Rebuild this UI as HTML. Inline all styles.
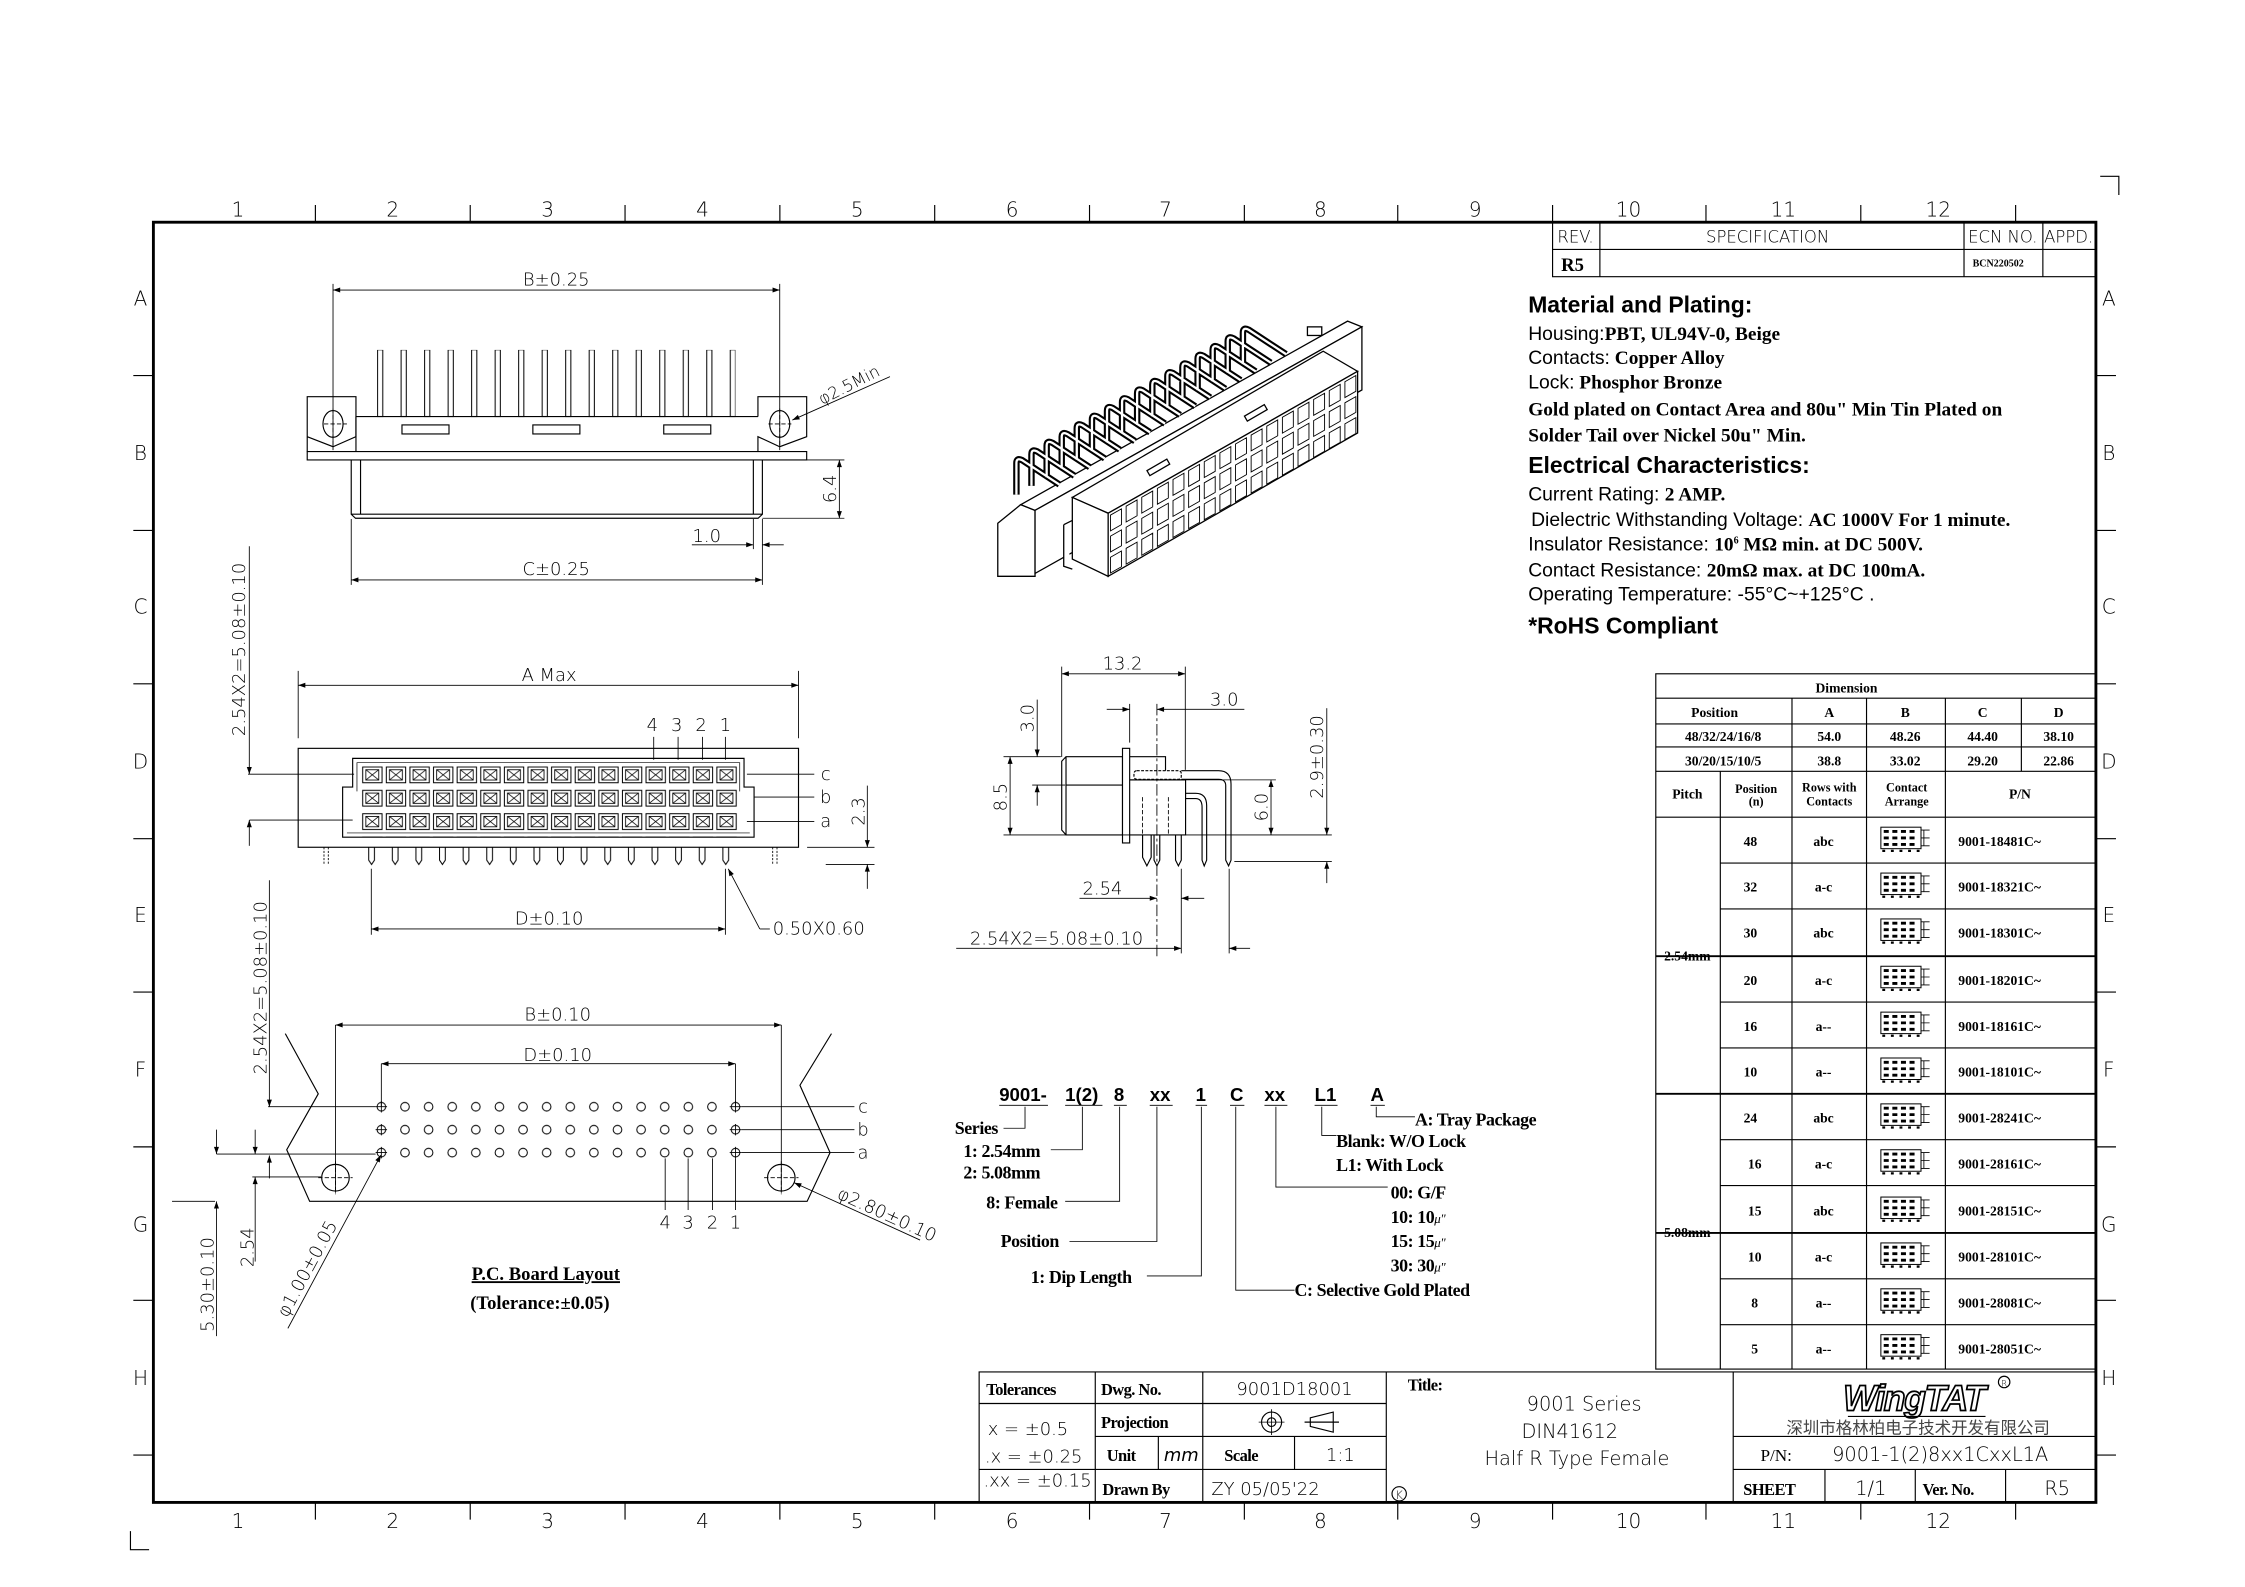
<!DOCTYPE html>
<html><head><meta charset="utf-8"><style>
html,body{margin:0;padding:0;background:#fff}
svg{display:block}
.l{stroke:#000;fill:none;stroke-width:.8}
.w{stroke:#000;fill:#fff;stroke-width:.8}
.d{stroke:#000;fill:none;stroke-width:.6}
.t{font-family:"DejaVu Sans","Liberation Sans",sans-serif;font-size:12.5px;fill:#000;font-weight:300}
.s{font-family:"Liberation Serif",serif;font-weight:bold;fill:#000}
.h{font-family:"Liberation Sans",sans-serif;font-weight:bold;fill:#000}
</style></head><body>
<svg width="2245" height="1587" viewBox="0 0 1566 1107" xmlns="http://www.w3.org/2000/svg">
<defs>
<marker id="a" viewBox="0 0 10 10" refX="10" refY="5" markerWidth="9" markerHeight="5" orient="auto-start-reverse" markerUnits="userSpaceOnUse"><path d="M0,1.5 L10,5 L0,8.5z" fill="#000"/></marker>
<pattern id="ct" patternUnits="userSpaceOnUse" x="252" y="534.5" width="16.47" height="16.3"><rect x="1" y="0.5" width="13.5" height="11" fill="none" stroke="#000" stroke-width=".7"/><rect x="3.2" y="2.4" width="9" height="7.2" fill="none" stroke="#000" stroke-width=".6"/><path d="M3.2,2.4 L12.2,9.6 M12.2,2.4 L3.2,9.6" stroke="#000" stroke-width=".5"/></pattern>
<pattern id="fp" patternUnits="userSpaceOnUse" x="251" y="591" width="16.47" height="20"><path d="M6.2,0 V9 L8.2,12 L10.2,9 V0" fill="none" stroke="#000" stroke-width=".7"/></pattern>
<pattern id="ho" patternUnits="userSpaceOnUse" x="257.8" y="764" width="16.47" height="16"><circle cx="8.235" cy="8" r="3" fill="none" stroke="#000" stroke-width=".7"/></pattern>
<pattern id="tp" patternUnits="userSpaceOnUse" x="263" y="244" width="16.4" height="60"><rect x="0.4" y="0" width="3.6" height="46.6" fill="none" stroke="#000" stroke-width=".7"/></pattern>
<g id="ic"><rect x="0" y="0" width="28" height="15" fill="none" stroke="#000" stroke-width=".7"/><path d="M28,2 h6 M28,7.5 h6 M28,13 h6 M30,2 v11" stroke="#000" stroke-width=".6" fill="none"/><path d="M2,3 h24 M2,7.5 h24 M2,12 h24" stroke="#000" stroke-width="2" stroke-dasharray="3.5 2.5"/><path d="M1,16.5 h27" stroke="#000" stroke-width="1.6" stroke-dasharray="2 4"/></g>
</defs>
<rect width="1566" height="1107" fill="#fff"/>

<rect x="107" y="155" width="1355" height="893" class="l" style="stroke-width:2"/>
<path class="l" d="M1465,123 H1478 V136 M91,1068 V1081 H104"/>
<g class="l">
<path d="M220,143V155 M328,143V155 M436,143V155 M544,143V155 M652,143V155 M760,143V155 M868,143V155 M975,143V155 M1083,143V155 M1190,143V155 M1298,143V155 M1406,143V155"/>
<path d="M220,1048V1060 M328,1048V1060 M436,1048V1060 M544,1048V1060 M652,1048V1060 M760,1048V1060 M868,1048V1060 M975,1048V1060 M1083,1048V1060 M1190,1048V1060 M1298,1048V1060 M1406,1048V1060"/>
<path d="M93,262H107 M93,370H107 M93,477H107 M93,585H107 M93,692H107 M93,800H107 M93,907H107 M93,1015H107"/>
<path d="M1462,262H1476 M1462,370H1476 M1462,477H1476 M1462,585H1476 M1462,692H1476 M1462,800H1476 M1462,907H1476 M1462,1015H1476"/>
</g>
<g class="t" style="font-size:14px" text-anchor="middle">
<text x="166" y="151">1</text><text x="274" y="151">2</text><text x="382" y="151">3</text><text x="490" y="151">4</text><text x="598" y="151">5</text><text x="706" y="151">6</text><text x="813" y="151">7</text><text x="921" y="151">8</text><text x="1029" y="151">9</text><text x="1136" y="151">10</text><text x="1244" y="151">11</text><text x="1352" y="151">12</text>
<text x="166" y="1066">1</text><text x="274" y="1066">2</text><text x="382" y="1066">3</text><text x="490" y="1066">4</text><text x="598" y="1066">5</text><text x="706" y="1066">6</text><text x="813" y="1066">7</text><text x="921" y="1066">8</text><text x="1029" y="1066">9</text><text x="1136" y="1066">10</text><text x="1244" y="1066">11</text><text x="1352" y="1066">12</text>
<text x="98" y="213">A</text><text x="98" y="321">B</text><text x="98" y="428">C</text><text x="98" y="536">D</text><text x="98" y="643">E</text><text x="98" y="751">F</text><text x="98" y="859">G</text><text x="98" y="966">H</text>
<text x="1471" y="213">A</text><text x="1471" y="321">B</text><text x="1471" y="428">C</text><text x="1471" y="536">D</text><text x="1471" y="643">E</text><text x="1471" y="751">F</text><text x="1471" y="859">G</text><text x="1471" y="966">H</text>
</g>

<path class="l" d="M1083,155V193H1462 M1083,174H1462 M1116,155V193 M1370,155V193 M1425,155V193"/>
<g class="t" style="font-size:11.5px" text-anchor="middle"><text x="1099" y="169">REV.</text><text x="1233" y="169">SPECIFICATION</text><text x="1397" y="169">ECN NO.</text><text x="1443" y="169">APPD.</text></g>
<text x="1089" y="189" class="s" style="font-size:13px">R5</text>
<text x="1376" y="186" class="s" style="font-size:7px">BCN220502</text>

<g>
<text x="1066" y="218" class="h" style="font-size:16px">Material and Plating:</text>
<text x="1066" y="237" class="s" style="font-size:13.5px"><tspan style="font-family:'Liberation Sans';font-weight:normal">Housing:</tspan>PBT, UL94V-0, Beige</text>
<text x="1066" y="254" class="s" style="font-size:13.5px"><tspan style="font-family:'Liberation Sans';font-weight:normal">Contacts:</tspan> Copper Alloy</text>
<text x="1066" y="271" class="s" style="font-size:13.5px"><tspan style="font-family:'Liberation Sans';font-weight:normal">Lock:</tspan> Phosphor Bronze</text>
<text x="1066" y="290" class="s" style="font-size:13.5px">Gold plated on Contact Area and 80u" Min Tin Plated on</text>
<text x="1066" y="308" class="s" style="font-size:13.5px">Solder Tail over Nickel 50u" Min.</text>
<text x="1066" y="330" class="h" style="font-size:16px">Electrical Characteristics:</text>
<g style="font-family:'Liberation Sans';font-size:13.5px">
<text x="1066" y="349">Current Rating: <tspan class="s">2 AMP.</tspan></text>
<text x="1068" y="367">Dielectric Withstanding Voltage: <tspan class="s">AC 1000V For 1 minute.</tspan></text>
<text x="1066" y="384">Insulator Resistance: <tspan class="s">10<tspan dy="-5" style="font-size:7px">6</tspan><tspan dy="5"> MΩ min. at DC 500V.</tspan></tspan></text>
<text x="1066" y="402">Contact Resistance: <tspan class="s">20mΩ  max. at DC 100mA.</tspan></text>
<text x="1066" y="419">Operating Temperature: -55°C~+125°C  .</text>
</g>
<text x="1066" y="442" class="h" style="font-size:16px">*RoHS Compliant</text>
</g>

<g class="l">
<rect x="1155" y="470" width="307" height="485"/>
<path d="M1155,487H1462 M1155,505H1462 M1155,521H1462 M1155,538H1462 M1155,570H1462"/>
<path d="M1250,487V955 M1302,487V955 M1357,487V955 M1410,487V538 M1200,538V955"/>
<path d="M1200,602H1462 M1200,634H1462 M1200,699H1462 M1200,731H1462 M1200,795H1462 M1200,827H1462 M1200,892H1462 M1200,924H1462"/>
<path d="M1155,667H1462 M1155,763H1462 M1155,860H1462" style="stroke-width:1.3"/>
</g>
<g class="s" style="font-size:9.5px" text-anchor="middle">
<text x="1288" y="483">Dimension</text>
<text x="1196" y="500">Position</text><text x="1276" y="500">A</text><text x="1329" y="500">B</text><text x="1383" y="500">C</text><text x="1436" y="500">D</text>
<text x="1202" y="517">48/32/24/16/8</text><text x="1276" y="517">54.0</text><text x="1329" y="517">48.26</text><text x="1383" y="517">44.40</text><text x="1436" y="517">38.10</text>
<text x="1202" y="534">30/20/15/10/5</text><text x="1276" y="534">38.8</text><text x="1329" y="534">33.02</text><text x="1383" y="534">29.20</text><text x="1436" y="534">22.86</text>
<text x="1177" y="557">Pitch</text><text x="1225" y="553" style="font-size:8.5px">Position</text><text x="1225" y="562" style="font-size:8.5px">(n)</text>
<text x="1276" y="552" style="font-size:8.5px">Rows with</text><text x="1276" y="562" style="font-size:8.5px">Contacts</text>
<text x="1330" y="552" style="font-size:8.5px">Contact</text><text x="1330" y="562" style="font-size:8.5px">Arrange</text>
<text x="1409" y="557">P/N</text>
<text x="1177" y="670">2.54mm</text><text x="1177" y="863">5.08mm</text>
</g>
<g class="s" style="font-size:9.5px">
<g text-anchor="middle">
<text x="1221" y="590">48</text><text x="1221" y="622">32</text><text x="1221" y="654">30</text><text x="1221" y="687">20</text><text x="1221" y="719">16</text><text x="1221" y="751">10</text><text x="1221" y="783">24</text><text x="1224" y="815">16</text><text x="1224" y="848">15</text><text x="1224" y="880">10</text><text x="1224" y="912">8</text><text x="1224" y="944">5</text>
<text x="1272" y="590">abc</text><text x="1272" y="622">a-c</text><text x="1272" y="654">abc</text><text x="1272" y="687">a-c</text><text x="1272" y="719">a--</text><text x="1272" y="751">a--</text><text x="1272" y="783">abc</text><text x="1272" y="815">a-c</text><text x="1272" y="848">abc</text><text x="1272" y="880">a-c</text><text x="1272" y="912">a--</text><text x="1272" y="944">a--</text>
</g>
<text x="1366" y="590">9001-18481C~</text><text x="1366" y="622">9001-18321C~</text><text x="1366" y="654">9001-18301C~</text><text x="1366" y="687">9001-18201C~</text><text x="1366" y="719">9001-18161C~</text><text x="1366" y="751">9001-18101C~</text><text x="1366" y="783">9001-28241C~</text><text x="1366" y="815">9001-28161C~</text><text x="1366" y="848">9001-28151C~</text><text x="1366" y="880">9001-28101C~</text><text x="1366" y="912">9001-28081C~</text><text x="1366" y="944">9001-28051C~</text>
</g>
<use href="#ic" x="1312" y="577"/><use href="#ic" x="1312" y="609"/><use href="#ic" x="1312" y="641"/><use href="#ic" x="1312" y="674"/><use href="#ic" x="1312" y="706"/><use href="#ic" x="1312" y="738"/><use href="#ic" x="1312" y="770"/><use href="#ic" x="1312" y="802"/><use href="#ic" x="1312" y="835"/><use href="#ic" x="1312" y="867"/><use href="#ic" x="1312" y="899"/><use href="#ic" x="1312" y="931"/>

<path class="d" d="M232.3,198V314 M543.9,198V314"/>
<path class="d" d="M232.3,202.3H543.9" marker-start="url(#a)" marker-end="url(#a)"/>
<text x="388" y="199" class="t" text-anchor="middle">B±0.25</text>
<rect x="263" y="244" width="250" height="47" fill="url(#tp)"/>
<path class="l" d="M248.3,290.6H528.7 M214.3,320.8H562.7V315H214.3Z"/>
<path class="l" d="M214.3,315V276.7H248.3V304.6L232.3,311.6L214.3,304.6 M528.7,290.6V276.7H562.7V304.6L543.9,311.6L528.7,304.6V315"/>
<path class="l" d="M248.3,290.6V315"/>
<ellipse cx="232.3" cy="295.7" rx="7" ry="9.3" class="l"/><ellipse cx="543.9" cy="295.7" rx="7" ry="9.3" class="l"/>
<path class="d" d="M232.3,285V312 M226,295.7H242 M543.9,285V312 M536,295.7H552" stroke-dasharray="3 1.5"/>
<rect x="280.4" y="296.4" width="32.8" height="6.3" class="l"/><rect x="371.7" y="296.4" width="32.8" height="6.3" class="l"/><rect x="463" y="296.4" width="32.8" height="6.3" class="l"/>
<path class="l" d="M245,320.8V358.7L248,361.5H528.8L531.8,358.7V320.8 M251.5,320.8V358.7 M525.5,320.8V358.7 M245,358.7H531.8"/>
<path class="d" d="M562.7,320.8H589 M531.8,361.5H589"/>
<path class="d" d="M585.5,320.8V361.5" marker-start="url(#a)" marker-end="url(#a)"/>
<text transform="translate(583,341) rotate(-90)" class="t" text-anchor="middle">6.4</text>
<path class="d" d="M525.5,362V383 M531.8,362V408 M245,362V408"/>
<path class="d" d="M482.6,380H525.5" marker-end="url(#a)"/><path class="d" d="M546.7,380H531.8" marker-end="url(#a)"/>
<text x="493" y="378" class="t" text-anchor="middle">1.0</text>
<path class="d" d="M245,404.5H531.8" marker-start="url(#a)" marker-end="url(#a)"/>
<text x="388" y="401" class="t" text-anchor="middle">C±0.25</text>
<path class="d" d="M620.8,262.7L552.7,293" marker-end="url(#a)"/>
<text transform="translate(594,272) rotate(-27)" class="t" style="font-size:11.5px" text-anchor="middle">φ2.5Min</text>

<path class="d" d="M208,468V515 M557,468V515"/>
<path class="d" d="M208,478H557" marker-start="url(#a)" marker-end="url(#a)"/>
<text x="383" y="475" class="t" text-anchor="middle">A  Max</text>
<rect x="208" y="522" width="349" height="69" class="l"/>
<path class="l" d="M246,549V529H519V549H526V584H239V549Z"/>
<path class="l" d="M249,552V532H516V552 M242,581H523" style="stroke-width:.5"/>
<rect x="252" y="534.5" width="263.5" height="49" fill="url(#ct)"/>
<rect x="251" y="591" width="263.5" height="13" fill="url(#fp)"/>
<path class="d" d="M226,591V603 M229,591V603 M539,591V603 M542,591V603" stroke-dasharray="1.5 1"/>
<g class="t" text-anchor="middle"><text x="455" y="510">4</text><text x="472" y="510">3</text><text x="489" y="510">2</text><text x="506" y="510">1</text></g>
<path class="d" d="M456,514V530 M473,514V530 M490,514V530 M506,514V530"/>
<path class="d" d="M521,540H568 M526,556H568 M521,573H568 M173,540H247 M174,572H246"/>
<g class="t" text-anchor="middle"><text x="576" y="544">c</text><text x="576" y="560">b</text><text x="576" y="577">a</text></g>
<path class="d" d="M563,591H610 M576,603H610"/>
<path class="d" d="M605,548V591" marker-end="url(#a)"/><path class="d" d="M605,620V603" marker-end="url(#a)"/>
<text transform="translate(603,566) rotate(-90)" class="t" text-anchor="middle">2.3</text>
<path class="d" d="M259,606V652 M506,606V652"/>
<path class="d" d="M259,648H506" marker-start="url(#a)" marker-end="url(#a)"/>
<text x="383" y="645" class="t" text-anchor="middle">D±0.10</text>
<path class="d" d="M530,648L508,606" marker-end="url(#a)"/><path class="d" d="M530,648H537"/>
<text x="539" y="652" class="t">0.50X0.60</text>
<path class="d" d="M173.9,381V540" marker-end="url(#a)"/><path class="d" d="M173.9,590V572" marker-end="url(#a)"/>
<text transform="translate(171,453) rotate(-90)" class="t" text-anchor="middle">2.54X2=5.08±0.10</text>

<path class="d" d="M234,715V832 M545,715V832 M266,742V772 M513,742V772"/>
<path class="d" d="M234,715H545" marker-start="url(#a)" marker-end="url(#a)"/>
<path class="d" d="M266,742H513" marker-start="url(#a)" marker-end="url(#a)"/>
<text x="389" y="712" class="t" text-anchor="middle">B±0.10</text><text x="389" y="740" class="t" text-anchor="middle">D±0.10</text>
<rect x="257.8" y="764" width="263.5" height="48" fill="url(#ho)"/>
<path class="d" d="M262,772H270 M266,768V776 M262,788H270 M266,784V792 M262,804H270 M266,800V808 M509,772H517 M513,768V776 M509,788H517 M513,784V792 M509,804H517 M513,800V808"/>
<ellipse cx="234" cy="821.5" rx="9.6" ry="9.3" class="l"/><ellipse cx="545" cy="821.5" rx="9.6" ry="9.3" class="l"/>
<path class="d" d="M234,810V833 M222,821.5H246 M545,810V833 M533,821.5H557" stroke-dasharray="3 1.5"/>
<path class="l" d="M199,721L222,763L200,802L216,838H563L579,804L558,757L580,721"/>
<path class="d" d="M187,772H262 M517,772H596 M517,788H596 M517,804H596 M151,805H262 M176,821H224 M120,838H150"/>
<g class="t" text-anchor="middle"><text x="602" y="776">c</text><text x="602" y="792">b</text><text x="602" y="808">a</text>
<text x="464" y="857">4</text><text x="480" y="857">3</text><text x="497" y="857">2</text><text x="513" y="857">1</text></g>
<path class="d" d="M464,808V844 M480,808V844 M497,808V844 M513,808V844"/>
<path class="d" d="M187.9,614V772" marker-end="url(#a)"/><path class="d" d="M187.9,822V806" marker-end="url(#a)"/>
<text transform="translate(186,689) rotate(-90)" class="t" text-anchor="middle">2.54X2=5.08±0.10</text>
<path class="d" d="M151,788V805" marker-end="url(#a)"/><path class="d" d="M151,932V838" marker-end="url(#a)"/>
<text transform="translate(149,896) rotate(-90)" class="t" text-anchor="middle">5.30±0.10</text>
<path class="d" d="M178,788V805" marker-end="url(#a)"/><path class="d" d="M178,880V821" marker-end="url(#a)"/>
<text transform="translate(177,870) rotate(-90)" class="t" text-anchor="middle">2.54</text>
<path class="d" d="M200.8,926.6L265.7,805.7" marker-end="url(#a)"/>
<text transform="translate(218,887) rotate(-61.7)" class="t" text-anchor="middle">φ1.00±0.05</text>
<path class="d" d="M641.8,865L554,825" marker-end="url(#a)"/>
<text transform="translate(617,851) rotate(24.5)" class="t" text-anchor="middle">φ2.80±0.10</text>
<text x="329" y="893" class="s" style="font-size:13px;text-decoration:underline">P.C. Board Layout</text>
<text x="328" y="913" class="s" style="font-size:13px">(Tolerance:±0.05)</text>

<g class="w" style="stroke-width:.9">
<path d="M696,365L712,352L722,356V402H696Z"/>
<path d="M712,352L940,224L950,228L722,356Z"/>
<path d="M722,356L950,228V272L722,400Z"/>
</g>
<path id="p3" style="fill:none;stroke:#000;stroke-width:4.5" d="M709,345v-22q0-4 4-2l26,17 M719.5,338.9v-22q0-4 4-2l26,17 M730.1,332.9v-22q0-4 4-2l26,17 M740.6,326.8v-22q0-4 4-2l26,17 M751.1,320.7v-22q0-4 4-2l26,17 M761.7,314.7v-22q0-4 4-2l26,17 M772.2,308.6v-22q0-4 4-2l26,17 M782.7,302.5v-22q0-4 4-2l26,17 M793.2,296.4v-22q0-4 4-2l26,17 M803.8,290.4v-22q0-4 4-2l26,17 M814.3,284.3v-22q0-4 4-2l26,17 M824.8,278.2v-22q0-4 4-2l26,17 M835.4,272.2v-22q0-4 4-2l26,17 M845.9,266.1v-22q0-4 4-2l26,17 M856.4,260v-22q0-4 4-2l26,17 M867,254v-22q0-4 4-2l26,17"/>
<path style="fill:none;stroke:#fff;stroke-width:1.6" d="M709,345v-22q0-4 4-2l26,17 M719.5,338.9v-22q0-4 4-2l26,17 M730.1,332.9v-22q0-4 4-2l26,17 M740.6,326.8v-22q0-4 4-2l26,17 M751.1,320.7v-22q0-4 4-2l26,17 M761.7,314.7v-22q0-4 4-2l26,17 M772.2,308.6v-22q0-4 4-2l26,17 M782.7,302.5v-22q0-4 4-2l26,17 M793.2,296.4v-22q0-4 4-2l26,17 M803.8,290.4v-22q0-4 4-2l26,17 M814.3,284.3v-22q0-4 4-2l26,17 M824.8,278.2v-22q0-4 4-2l26,17 M835.4,272.2v-22q0-4 4-2l26,17 M845.9,266.1v-22q0-4 4-2l26,17 M856.4,260v-22q0-4 4-2l26,17 M867,254v-22q0-4 4-2l26,17"/>
<g class="w" style="stroke-width:.9">
<path d="M748,347L923,245L947,259L773,358Z"/>
<path d="M748,347L773,358V402L748,390Z"/>
<path d="M773,358L947,259V302L773,402Z"/>
<path d="M742,366L748,363 M742,366V395L748,397" />
<rect x="800" y="324" width="16" height="4" transform="rotate(-30 808 326)"/>
<rect x="868" y="286" width="16" height="4" transform="rotate(-30 876 288)"/>
<rect x="912" y="228" width="10" height="6"/>
</g>
<g transform="matrix(10.9,-6.2,0,14.7,773,358)">
<path d="M0.15,0.15h0.7v0.75h-0.7z M1.15,0.15h0.7v0.75h-0.7z M2.15,0.15h0.7v0.75h-0.7z M3.15,0.15h0.7v0.75h-0.7z M4.15,0.15h0.7v0.75h-0.7z M5.15,0.15h0.7v0.75h-0.7z M6.15,0.15h0.7v0.75h-0.7z M7.15,0.15h0.7v0.75h-0.7z M8.15,0.15h0.7v0.75h-0.7z M9.15,0.15h0.7v0.75h-0.7z M10.15,0.15h0.7v0.75h-0.7z M11.15,0.15h0.7v0.75h-0.7z M12.15,0.15h0.7v0.75h-0.7z M13.15,0.15h0.7v0.75h-0.7z M14.15,0.15h0.7v0.75h-0.7z M15.15,0.15h0.7v0.75h-0.7z
M0.15,1.15h0.7v0.75h-0.7z M1.15,1.15h0.7v0.75h-0.7z M2.15,1.15h0.7v0.75h-0.7z M3.15,1.15h0.7v0.75h-0.7z M4.15,1.15h0.7v0.75h-0.7z M5.15,1.15h0.7v0.75h-0.7z M6.15,1.15h0.7v0.75h-0.7z M7.15,1.15h0.7v0.75h-0.7z M8.15,1.15h0.7v0.75h-0.7z M9.15,1.15h0.7v0.75h-0.7z M10.15,1.15h0.7v0.75h-0.7z M11.15,1.15h0.7v0.75h-0.7z M12.15,1.15h0.7v0.75h-0.7z M13.15,1.15h0.7v0.75h-0.7z M14.15,1.15h0.7v0.75h-0.7z M15.15,1.15h0.7v0.75h-0.7z
M0.15,2.15h0.7v0.75h-0.7z M1.15,2.15h0.7v0.75h-0.7z M2.15,2.15h0.7v0.75h-0.7z M3.15,2.15h0.7v0.75h-0.7z M4.15,2.15h0.7v0.75h-0.7z M5.15,2.15h0.7v0.75h-0.7z M6.15,2.15h0.7v0.75h-0.7z M7.15,2.15h0.7v0.75h-0.7z M8.15,2.15h0.7v0.75h-0.7z M9.15,2.15h0.7v0.75h-0.7z M10.15,2.15h0.7v0.75h-0.7z M11.15,2.15h0.7v0.75h-0.7z M12.15,2.15h0.7v0.75h-0.7z M13.15,2.15h0.7v0.75h-0.7z M14.15,2.15h0.7v0.75h-0.7z M15.15,2.15h0.7v0.75h-0.7z" fill="none" stroke="#000" stroke-width=".9" vector-effect="non-scaling-stroke"/>
</g>

<path class="d" d="M740.6,465V528 M826.8,465V537"/>
<path class="d" d="M740.6,470H826.8" marker-start="url(#a)" marker-end="url(#a)"/>
<text x="783" y="467" class="t" text-anchor="middle">13.2</text>
<path class="l" d="M743.6,527.8H783V582.4H743.6L740.6,579V531Z M743.6,547.6H783 M743.6,527.8V582.4"/>
<rect x="783" y="522" width="5" height="66" class="w"/>
<path class="l" d="M788,527.8H813V537.6 M788,544H827V582.4H788"/>
<rect x="791" y="537.6" width="33" height="6" rx="2" class="l" stroke-dasharray="2 1"/>
<path class="l" d="M824,537.6H850Q858.7,537.6 858.7,547V600L857,604L855,600V548Q855,543.6 850,543.6H824"/>
<path class="l" d="M827,553.4H834Q841.7,553.4 841.7,562V600L840,604L838.5,600V563Q838.5,557 834,557H827"/>
<path class="l" d="M820,582.4V600L822,604L824,600V582.4 M797,582.4V598L800,604L803,598V582.4 M805,582.4V600L807,604L809,600V582.4"/>
<path class="d" d="M797,556V582 M815,556V582" stroke-dasharray="3 1.5"/>
<path class="d" d="M807,491V667" stroke-dasharray="8 2 2 2"/>
<path class="d" d="M788,491V518"/>
<path class="d" d="M723.5,488V527.8" marker-end="url(#a)"/><path class="d" d="M723.5,562V547.6" marker-end="url(#a)"/>
<path class="d" d="M720,547.6H743 M700,527.8H740"/>
<text transform="translate(721,501) rotate(-90)" class="t" text-anchor="middle">3.0</text>
<path class="d" d="M704.6,527.8V582.4" marker-start="url(#a)" marker-end="url(#a)"/>
<text transform="translate(702,556) rotate(-90)" class="t" text-anchor="middle">8.5</text>
<path class="d" d="M772,494.8H788" marker-end="url(#a)"/><path class="d" d="M868,494.8H807" marker-end="url(#a)"/>
<text x="854" y="492" class="t" text-anchor="middle">3.0</text>
<path class="d" d="M825,544H890 M700,582.4H929 M861,601H929"/>
<path class="d" d="M886.6,544V582.4" marker-start="url(#a)" marker-end="url(#a)"/>
<text transform="translate(884,563) rotate(-90)" class="t" text-anchor="middle">6.0</text>
<path class="d" d="M925.5,494V582.4" marker-end="url(#a)"/><path class="d" d="M925.5,616V601" marker-end="url(#a)"/>
<text transform="translate(923,528) rotate(-90)" class="t" text-anchor="middle">2.9±0.30</text>
<path class="d" d="M753,626.6H807" marker-end="url(#a)"/><path class="d" d="M840,626.6H824" marker-end="url(#a)"/>
<path class="d" d="M824,606V665 M857.4,606V665"/>
<text x="769" y="624" class="t" text-anchor="middle">2.54</text>
<path class="d" d="M667,661.5H824" marker-end="url(#a)"/><path class="d" d="M872,661.5H857.4" marker-end="url(#a)"/>
<text x="737" y="659" class="t" text-anchor="middle">2.54X2=5.08±0.10</text>

<g class="h" style="font-size:13px">
<text x="697" y="768">9001-</text><text x="743" y="768">1(2)</text><text x="777" y="768">8</text><text x="802" y="768">xx</text><text x="834" y="768">1</text><text x="858" y="768">C</text><text x="882" y="768">xx</text><text x="917" y="768">L1</text><text x="956" y="768">A</text>
</g>
<path class="d" d="M697,771H731 M743,771H769 M777,771H786 M802,771H818 M834,771H842 M858,771H868 M882,771H898 M917,771H933 M956,771H966"/>
<path class="d" d="M715,772V787H700 M755,772V802H733 M781,772V838H743 M807,772V866H746 M838,772V890H800 M862,772V900H903 M890,772V828H968 M922,772V792H932 M960,772V779H987"/>
<g class="s" style="font-size:12.5px;letter-spacing:-.3px">
<text x="666" y="791">Series</text><text x="672" y="807">1: 2.54mm</text><text x="672" y="822">2: 5.08mm</text><text x="688" y="843">8: Female</text><text x="698" y="870">Position</text><text x="719" y="895">1: Dip Length</text><text x="903" y="904">C: Selective Gold Plated</text>
<text x="987" y="785">A: Tray Package</text><text x="932" y="800">Blank: W/O Lock</text><text x="932" y="817">L1: With Lock</text><text x="970" y="836">00: G/F</text><text x="970" y="853">10: 10<tspan style="font-weight:normal;font-style:italic;font-size:9px">μ"</tspan></text><text x="970" y="870">15: 15<tspan style="font-weight:normal;font-style:italic;font-size:9px">μ"</tspan></text><text x="970" y="887">30: 30<tspan style="font-weight:normal;font-style:italic;font-size:9px">μ"</tspan></text>
</g>

<g class="l">
<path d="M683,1048V957H1462 M683,979H764 M764,979H967 M764,1002H967 M683,1025H967 M764,957V1048 M839,957V979 M839,1002V1048 M808,1002V1025 M903,1002V1025 M967,957V1048 M1209,957V1048 M1209,1002H1462 M1209,1025H1462 M1273,1025V1048 M1336,1025V1048 M1399,1025V1048 M839,979V1002"/>
</g>
<g class="s" style="font-size:11.5px;letter-spacing:-.4px">
<text x="688" y="973">Tolerances</text><text x="768" y="973">Dwg. No.</text><text x="768" y="996">Projection</text><text x="772" y="1019">Unit</text><text x="854" y="1019">Scale</text><text x="769" y="1043">Drawn By</text><text x="982" y="970">Title:</text><text x="1216" y="1043">SHEET</text><text x="1341" y="1043">Ver. No.</text>
</g>
<g class="t" style="font-size:12.5px">
<text x="689" y="1001">x  =  ±0.5</text><text x="687" y="1020">.x  =  ±0.25</text><text x="686" y="1037">.xx  =  ±0.15</text>
<text x="903" y="973" text-anchor="middle">9001D18001</text>
<text x="824" y="1019" text-anchor="middle" style="font-style:italic">mm</text>
<text x="935" y="1019" text-anchor="middle">1:1</text>
<text x="845" y="1043">ZY 05/05'22</text>
<text x="1105" y="984" text-anchor="middle" style="font-size:13.5px">9001  Series</text>
<text x="1095" y="1003" text-anchor="middle" style="font-size:13.5px">DIN41612</text>
<text x="1100" y="1022" text-anchor="middle" style="font-size:13.5px">Half  R  Type  Female</text>
<text x="1278" y="1019" style="font-size:13.5px">9001-1(2)8xx1CxxL1A</text>
<text x="1305" y="1043" text-anchor="middle" style="font-size:13.5px">1/1</text>
<text x="1435" y="1043" text-anchor="middle" style="font-size:13.5px">R5</text>
</g>
<text x="1228" y="1019" class="s" style="font-size:12px;font-weight:normal">P/N:</text>
<circle cx="887" cy="992" r="7" class="l"/><circle cx="887" cy="992" r="3" class="l"/><path class="d" d="M878,992H896 M887,983V1001"/>
<path class="l" d="M914,989L930,985V999L914,995Z M910,992H934"/>
<circle cx="976" cy="1042" r="5" class="l"/><text x="976" y="1045.5" class="t" style="font-size:8px" text-anchor="middle">K</text>
<text x="1335" y="984" text-anchor="middle" style="font-family:'Liberation Sans',sans-serif;font-size:25px;font-style:italic;font-weight:bold;fill:#fff;stroke:#000;stroke-width:1.2;letter-spacing:-1px">WingTAT</text>
<path class="l" d="M1289,988H1385"/>
<circle cx="1398" cy="964" r="4" class="l"/><text x="1398" y="967" class="t" style="font-size:6px" text-anchor="middle">R</text>
<text x="1338" y="1000" text-anchor="middle" style="font-family:'Liberation Sans','Noto Sans CJK SC',sans-serif;font-size:11.5px;fill:#444">深圳市格林柏电子技术开发有限公司</text>
</svg>
</body></html>
